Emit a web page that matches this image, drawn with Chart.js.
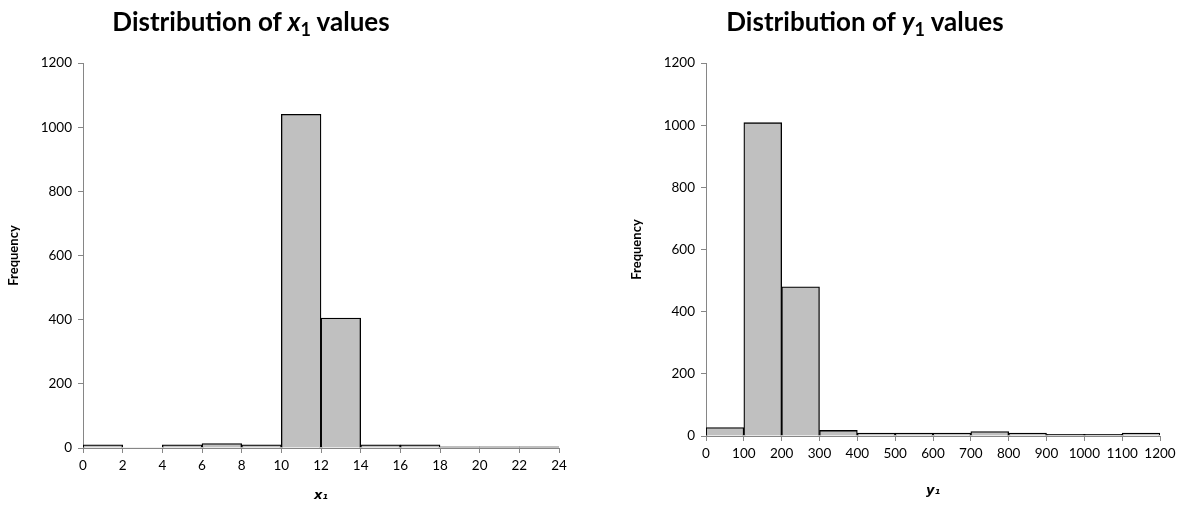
<!DOCTYPE html>
<html>
<head>
<meta charset="utf-8">
<script src="https://cdn.jsdelivr.net/npm/chart.js@4/dist/chart.umd.min.js"></script>
<style>
  html, body { margin: 0; padding: 0; background: #fff; }
  #wrap { position: relative; width: 1184px; height: 509px; overflow: hidden; }
  .box { position: absolute; top: 0; width: 592px; height: 509px; }
  .title { position: absolute; top: 5px; transform: translateX(-50%); white-space: nowrap;
           font-family: Lato, "Open Sans", sans-serif; font-weight: bold; font-size: 26px; color: #000; }
  .title sub { font-size: 18px; vertical-align: -5px; line-height: 0; }
</style>
</head>
<body>
<div id="wrap">
  <div class="box" style="left:0"><canvas id="c1" width="592" height="509"></canvas></div>
  <div class="box" style="left:592px"><canvas id="c2" width="592" height="509"></canvas></div>
  <div class="title" style="left:251px">Distribution of <i>x</i><sub>1</sub> values</div>
  <div class="title" style="left:865px">Distribution of <i>y</i><sub>1</sub> values</div>
</div>
<script>
// ---- data ----
const x1BinStarts = [0, 2, 4, 6, 8, 10, 12, 14, 16, 18, 20, 22];
const x1BinWidth = 2;
const x1Freq = [10, 0, 10, 14, 10, 1040, 405, 10, 10, 4, 4, 4];

const y1BinStarts = [0, 100, 200, 300, 400, 500, 600, 700, 800, 900, 1000, 1100];
const y1BinWidth = 100;
const y1Freq = [27, 1008, 480, 18, 9, 9, 9, 14, 9, 5, 5, 9];

const yTicks = [0, 200, 400, 600, 800, 1000, 1200];
const x1Range = [0, 24];
const y1Range = [0, 1200];

const FONT = 'Lato, "Open Sans", sans-serif';
const AXIS = '#868686';

function makeChart(id, starts, width, freq, range, xTitle, layout) {
  const points = starts.map((s, i) => ({ x: s + width / 2, y: freq[i] }));
  return new Chart(document.getElementById(id), {
    type: 'bar',
    data: {
      datasets: [{
        data: points,
        backgroundColor: '#c0c0c0',
        borderColor: '#000',
        borderWidth: ctx => (ctx.raw && ctx.raw.y === 0 ? 0 : 1.3),
        barPercentage: 1,
        categoryPercentage: 1
      }]
    },
    options: {
      responsive: false,
      animation: false,
      events: [],
      layout: { padding: { left: layout.padL, top: 63, right: layout.padR, bottom: 0 } },
      plugins: { legend: { display: false }, tooltip: { enabled: false }, title: { display: false } },
      scales: {
        x: {
          type: 'linear',
          min: range[0], max: range[1],
          offset: false,
          afterFit: s => { s.height = layout.xH; },
          afterBuildTicks: s => {
            const t = [];
            for (let v = range[0]; v <= range[1] + 1e-9; v += width) t.push({ value: v });
            s.ticks = t;
          },
          ticks: { autoSkip: false, maxRotation: 0, minRotation: 0, color: '#000',
                   font: { family: FONT, size: 13.5 }, padding: 5,
                   callback: v => String(v) },
          grid: { drawOnChartArea: false, tickLength: 5, color: AXIS, offset: false },
          border: { color: AXIS, width: 1 },
          title: { display: true, text: xTitle, color: '#000',
                   font: { family: '"DejaVu Sans", sans-serif', size: 13, weight: 'bold', style: 'italic' },
                   padding: { top: 4, bottom: layout.xTitleBottom } }
        },
        y: {
          min: 0, max: 1200,
          afterFit: s => { s.width = layout.yW; },
          afterBuildTicks: s => { s.ticks = yTicks.map(v => ({ value: v })); },
          ticks: { color: '#000', font: { family: FONT, size: 13.5 }, padding: 6,
                   callback: v => String(v) },
          grid: { drawOnChartArea: false, tickLength: 5, color: AXIS },
          border: { color: AXIS, width: 1 },
          title: { display: true, text: 'Frequency', color: '#000',
                   font: { family: FONT, size: 13, weight: 'bold' }, padding: { top: 2, bottom: 4 } }
        }
      }
    }
  });
}

makeChart('c1', x1BinStarts, x1BinWidth, x1Freq, x1Range, 'x\u2081',
  { padL: 4, padR: 33, yW: 79, xH: 61, xTitleBottom: 6 });
makeChart('c2', y1BinStarts, y1BinWidth, y1Freq, y1Range, 'y\u2081',
  { padL: 35, padR: 24, yW: 79, xH: 73, xTitleBottom: 11 });
</script>
</body>
</html>
